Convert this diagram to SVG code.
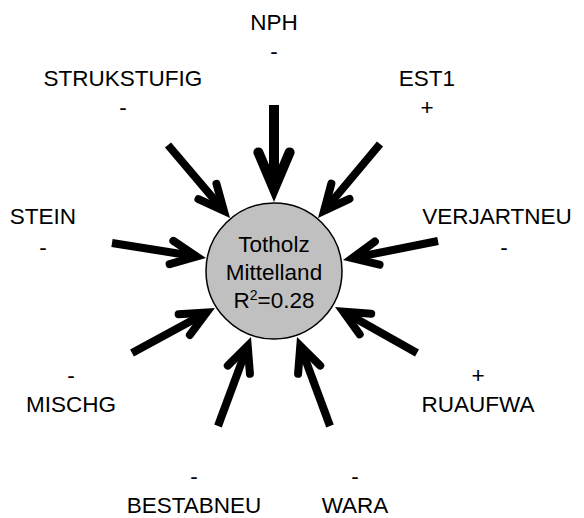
<svg xmlns="http://www.w3.org/2000/svg" width="584" height="518" viewBox="0 0 584 518">
<style>
text{font-family:"Liberation Sans",Arial,sans-serif;font-size:22.5px;fill:#000;text-anchor:middle}
.sh{fill:none;stroke:#000;stroke-width:8;stroke-linecap:butt}
.big{stroke-width:10}
</style>
<defs>
<marker id="ah" markerUnits="userSpaceOnUse" orient="auto" markerWidth="60" markerHeight="60" refX="0" refY="0" viewBox="-40 -30 60 60" overflow="visible">
<path d="M-25.4,-11.8 L0,0 L-25.4,11.8" fill="none" stroke="#000" stroke-width="8" stroke-linecap="round" stroke-linejoin="miter" stroke-miterlimit="10"/>
</marker>
<marker id="ahb" markerUnits="userSpaceOnUse" orient="auto" markerWidth="80" markerHeight="80" refX="0" refY="0" viewBox="-50 -40 80 80" overflow="visible">
<path d="M-36.8,-15.6 L0,0 L-36.8,15.6" fill="none" stroke="#000" stroke-width="10" stroke-linecap="round" stroke-linejoin="miter" stroke-miterlimit="10"/>
</marker>
</defs>
<g id="connectors">
<path class="sh big" d="M274,105 L274,189.2" marker-end="url(#ahb)"/>
<path class="sh" d="M168,145 L223.9,210.8" marker-end="url(#ah)"/>
<path class="sh" d="M380,144 L324.1,210.7" marker-end="url(#ah)"/>
<path class="sh" d="M112,243 L196.6,256.5" marker-end="url(#ah)"/>
<path class="sh" d="M438,241 L352.3,258.1" marker-end="url(#ah)"/>
<path class="sh" d="M132,353 L206.6,312.5" marker-end="url(#ah)"/>
<path class="sh" d="M417,353 L343.3,311.6" marker-end="url(#ah)"/>
<path class="sh" d="M218,426 L247.7,345.9" marker-end="url(#ah)"/>
<path class="sh" d="M330,426 L300.3,345.9" marker-end="url(#ah)"/>
</g>
<g id="center">
<circle cx="274" cy="271" r="68" fill="#c0c0c0" stroke="#000" stroke-width="1.5"/>
<text x="274" y="252">Totholz</text>
<text x="274" y="280">Mittelland</text>
<text x="274" y="308">R<tspan font-size="14" dy="-8">2</tspan><tspan dy="8">=0.28</tspan></text>
</g>
<g id="NPH"><text x="274" y="30">NPH</text><text x="274" y="59">-</text></g>
<g id="STRUKSTUFIG"><text x="123" y="86">STRUKSTUFIG</text><text x="123" y="115">-</text></g>
<g id="EST1"><text x="427" y="86">EST1</text><text x="427" y="115">+</text></g>
<g id="STEIN"><text x="43" y="224">STEIN</text><text x="43" y="255">-</text></g>
<g id="VERJARTNEU"><text x="497" y="224">VERJARTNEU</text><text x="504" y="255">-</text></g>
<g id="MISCHG"><text x="71" y="383">-</text><text x="71" y="412">MISCHG</text></g>
<g id="RUAUFWA"><text x="478" y="383">+</text><text x="478" y="412">RUAUFWA</text></g>
<g id="BESTABNEU"><text x="194" y="484">-</text><text x="194" y="513">BESTABNEU</text></g>
<g id="WARA"><text x="355" y="484">-</text><text x="355" y="513">WARA</text></g>
</svg>
